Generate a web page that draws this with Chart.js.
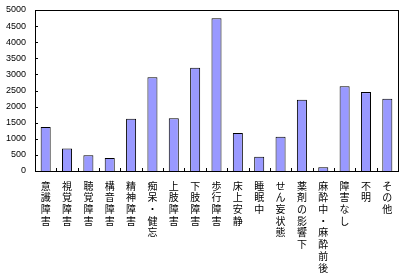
<!DOCTYPE html>
<html>
<head>
<meta charset="utf-8">
<script src="https://cdn.jsdelivr.net/npm/chart.js@4/dist/chart.umd.min.js"></script>
<style>
  html, body { margin: 0; padding: 0; background: #fff; }
</style>
</head>
<body>
<canvas id="myChart" width="405" height="276"></canvas>
<script>
// categories (each written top-to-bottom, one character per line)
const categories = [
    '意識障害', '視覚障害', '聴覚障害', '構音障害', '精神障害', '痴呆・健忘',
    '上肢障害', '下肢障害', '歩行障害', '床上安静', '睡眠中', 'せん妄状態',
    '薬剤の影響下', '麻酔中・麻酔前後', '障害なし', '不明', 'その他'
];
const counts = [1370, 700, 490, 400, 1620, 2910, 1640, 3210, 4740, 1180, 440, 1060, 2210, 120, 2630, 2450, 2240];

const yMin = 0;
const yMax = 5000;
const yStep = 500;

// draws the box round the plot and the short inside tick marks
const framePlugin = {
    id: 'frame',
    afterDraw(c) {
        const g = c.ctx;
        const a = c.chartArea;
        const xs = c.scales.x;
        const ys = c.scales.y;
        const l = Math.round(a.left), r = Math.round(a.right);
        const t = Math.round(a.top), b = Math.round(a.bottom);
        g.save();
        g.fillStyle = '#000000';
        g.fillRect(l, t, r - l + 1, 1);
        g.fillRect(l, b, r - l + 1, 1);
        g.fillRect(l, t, 1, b - t + 1);
        g.fillRect(r, t, 1, b - t + 1);
        // y ticks, pointing right
        for (let v = yMin; v <= yMax; v += yStep) {
            g.fillRect(l, Math.round(ys.getPixelForValue(v)), 3, 1);
        }
        // x ticks between categories, pointing up
        for (let i = 0; i < categories.length - 1; i++) {
            const px = Math.round((xs.getPixelForValue(i) + xs.getPixelForValue(i + 1)) / 2);
            g.fillRect(px, b - 3, 1, 3);
        }
        g.restore();
    }
};

const chart = new Chart(document.getElementById('myChart'), {
    type: 'bar',
    data: {
        labels: categories.map(s => s.split('')),
        datasets: [{
            data: counts,
            backgroundColor: '#9999FF',
            borderColor: '#000000',
            borderWidth: 1,
            borderSkipped: 'start',
            categoryPercentage: 1,
            barPercentage: 0.47
        }]
    },
    options: {
        responsive: false,
        animation: false,
        layout: { padding: { top: 10, right: 7, left: 0, bottom: 0 } },
        plugins: {
            legend: { display: false },
            tooltip: { enabled: false }
        },
        scales: {
            x: {
                grid: { display: false, drawTicks: false },
                border: { display: false },
                afterFit(scale) { scale.height = 105; },
                ticks: {
                    color: '#000',
                    autoSkip: false,
                    maxRotation: 0,
                    minRotation: 0,
                    padding: 9,
                    font: { family: '"Noto Sans CJK JP"', size: 10, lineHeight: '11.7px' }
                }
            },
            y: {
                min: yMin,
                max: yMax,
                grid: { display: false, drawTicks: false },
                border: { display: false },
                afterFit(scale) {
                    scale.width = 35;
                    scale.paddingTop = 0;
                    scale.paddingBottom = 0;
                },
                ticks: {
                    stepSize: yStep,
                    color: '#000',
                    padding: 9,
                    callback: v => String(v),
                    font: { family: '"Liberation Sans", Arial', size: 9 }
                }
            }
        }
    },
    plugins: [framePlugin]
});
</script>
</body>
</html>
